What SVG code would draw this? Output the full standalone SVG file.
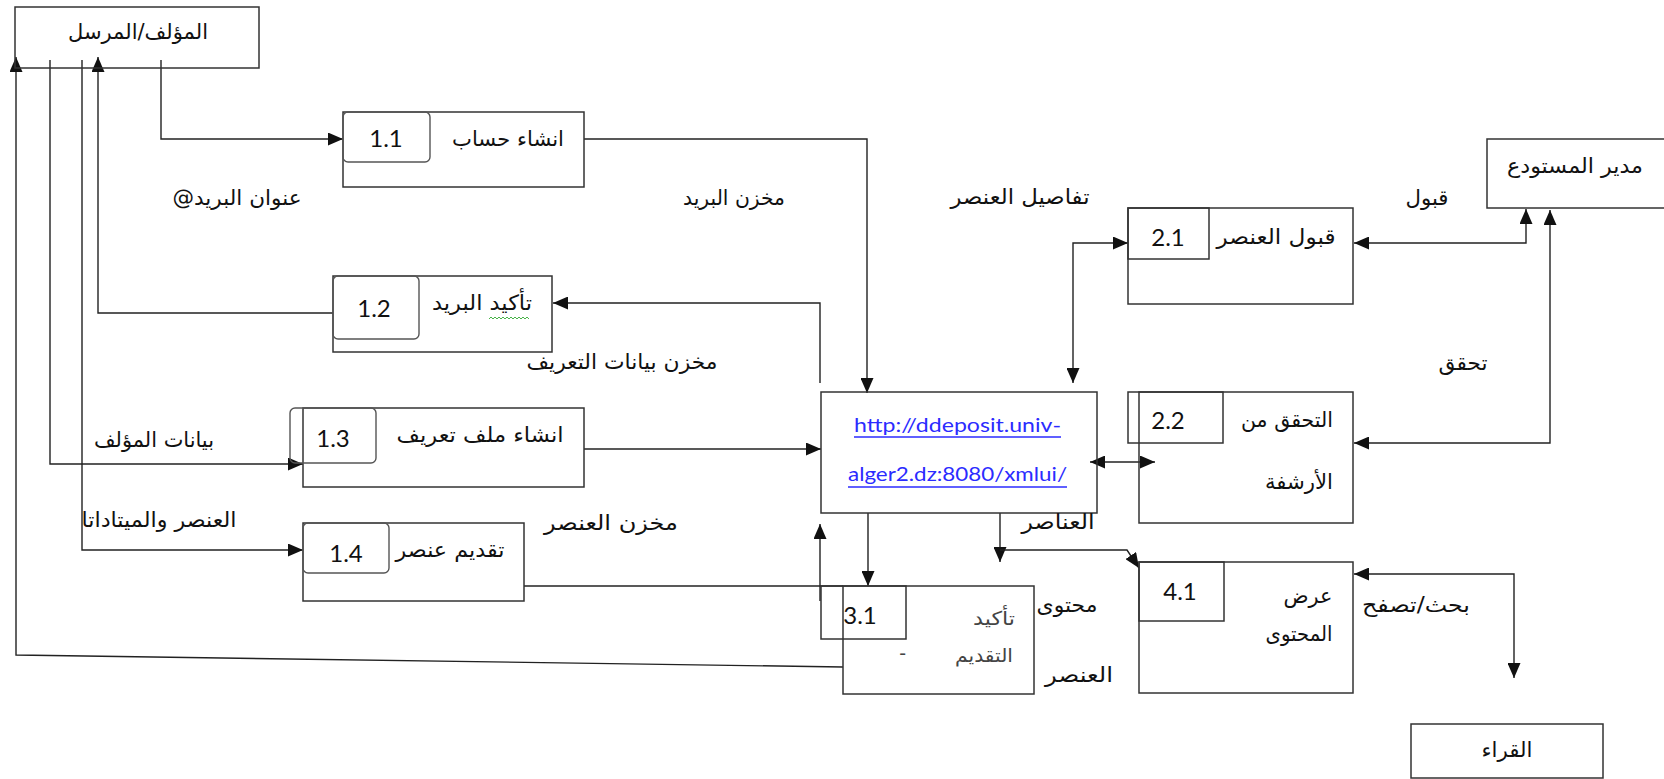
<svg xmlns="http://www.w3.org/2000/svg" width="1664" height="779" viewBox="0 0 1664 779">
<style>
.box{fill:none;stroke:#333;stroke-width:1.5}
.rbox{fill:none;stroke:#555;stroke-width:1.4}
.ln{fill:none;stroke:#222;stroke-width:1.4}
.ar{font-family:"DejaVu Sans",sans-serif;font-size:21px;fill:#111;direction:rtl;text-anchor:middle}
.arl{font-family:"DejaVu Sans",sans-serif;font-size:19px;fill:#444;direction:rtl;text-anchor:start}
.n{font-family:Lato,"Liberation Sans",sans-serif;font-size:24px;fill:#111;text-anchor:middle}
.url{font-family:Lato,"Liberation Sans",sans-serif;font-size:20px;fill:#2b2bff}
.ul{stroke:#2b2bff;stroke-width:1.3}
</style>
<defs>
<marker id="ah" viewBox="0 0 15 13" markerUnits="userSpaceOnUse" markerWidth="15" markerHeight="13" refX="15" refY="6.5" orient="auto-start-reverse">
<path d="M0,0 L15,6.5 L0,13 z" fill="#111"/>
</marker>
</defs>
<rect width="1664" height="779" fill="#fff"/>
<g id="connectors">
<path class="ln" d="M161,60 V139 H343" marker-end="url(#ah)"/>
<path class="ln" d="M333,313 H98 V57" marker-end="url(#ah)"/>
<path class="ln" d="M50,60 V464 H303" marker-end="url(#ah)"/>
<path class="ln" d="M82,60 V550 H303" marker-end="url(#ah)"/>
<path class="ln" d="M843,667 L16,655 V57" marker-end="url(#ah)"/>
<path class="ln" d="M584,139 H867 V393" marker-end="url(#ah)"/>
<path class="ln" d="M820,383 V303 H553" marker-end="url(#ah)"/>
<path class="ln" d="M584,449 H821" marker-end="url(#ah)"/>
<path class="ln" d="M524,586 H843"/>
<path class="ln" d="M868,513 V586" marker-end="url(#ah)"/>
<path class="ln" d="M820,601 V524" marker-end="url(#ah)"/>
<path class="ln" d="M1000,513 V562" marker-end="url(#ah)"/>
<path class="ln" d="M1000,550 H1127 L1139,568" marker-end="url(#ah)"/>
<path class="ln" d="M1073,383 V243 H1128" marker-start="url(#ah)" marker-end="url(#ah)"/>
<path class="ln" d="M1090,462 H1155" marker-start="url(#ah)" marker-end="url(#ah)"/>
<path class="ln" d="M1526,209 V243 H1354" marker-start="url(#ah)" marker-end="url(#ah)"/>
<path class="ln" d="M1550,210 V443 H1354" marker-start="url(#ah)" marker-end="url(#ah)"/>
<path class="ln" d="M1354,574 H1514 V678" marker-start="url(#ah)" marker-end="url(#ah)"/>
</g>
<g id="author">
<rect class="box" x="15" y="7" width="244" height="61"/>
<text class="ar" x="138" y="39" textLength="140" lengthAdjust="spacingAndGlyphs">المؤلف/المرسل</text>
</g>
<g id="p11">
<rect class="box" x="343" y="112" width="241" height="75"/>
<rect class="rbox" x="343" y="112" width="87" height="50" rx="5"/>
<text class="n" x="386" y="147">1.1</text>
<text class="ar" x="508" y="146" textLength="112" lengthAdjust="spacingAndGlyphs">انشاء حساب</text>
</g>
<g id="p12">
<rect class="box" x="333" y="276" width="219" height="76"/>
<rect class="rbox" x="333" y="276" width="86" height="63" rx="5"/>
<text class="n" x="374" y="317">1.2</text>
<text class="ar" x="482" y="310" textLength="100" lengthAdjust="spacingAndGlyphs">تأكيد البريد</text>
<path d="M489,319 l2,-2 l2,2 l2,-2 l2,2 l2,-2 l2,2 l2,-2 l2,2 l2,-2 l2,2 l2,-2 l2,2 l2,-2 l2,2 l2,-2 l2,2 l2,-2 l2,2 l2,-2 l2,2" fill="none" stroke="#3a3" stroke-width="0.9"/>
</g>
<g id="p13">
<rect class="box" x="303" y="408" width="281" height="79"/>
<rect class="rbox" x="290" y="408" width="86" height="55" rx="5"/>
<text class="n" x="333" y="447">1.3</text>
<text class="ar" x="480" y="442" textLength="167" lengthAdjust="spacingAndGlyphs">انشاء ملف تعريف</text>
</g>
<g id="p14">
<rect class="box" x="303" y="523" width="221" height="78"/>
<rect class="rbox" x="303" y="523" width="86" height="50" rx="5"/>
<text class="n" x="346" y="562">1.4</text>
<text class="ar" x="450" y="557" textLength="109" lengthAdjust="spacingAndGlyphs">تقديم عنصر</text>
</g>
<g id="repository">
<rect class="box" x="821" y="392" width="276" height="121"/>
<text class="url" x="854" y="432" textLength="207" lengthAdjust="spacingAndGlyphs">http://ddeposit.univ-</text>
<line class="ul" x1="854" y1="437" x2="1061" y2="437"/>
<text class="url" x="848" y="481" textLength="219" lengthAdjust="spacingAndGlyphs">alger2.dz:8080/xmlui/</text>
<line class="ul" x1="848" y1="487" x2="1067" y2="487"/>
</g>
<g id="p21">
<rect class="box" x="1128" y="208" width="225" height="96"/>
<rect class="box" x="1128" y="208" width="81" height="51"/>
<text class="n" x="1168" y="246">2.1</text>
<text class="ar" x="1276" y="244" textLength="119" lengthAdjust="spacingAndGlyphs">قبول العنصر</text>
</g>
<g id="p22">
<rect class="box" x="1139" y="392" width="214" height="131"/>
<rect class="box" x="1128" y="392" width="95" height="51"/>
<text class="n" x="1168" y="429">2.2</text>
<text class="ar" x="1287" y="427" textLength="92" lengthAdjust="spacingAndGlyphs">التحقق من</text>
<text class="ar" x="1299" y="489" textLength="68" lengthAdjust="spacingAndGlyphs">الأرشفة</text>
</g>
<g id="p31">
<rect class="box" x="843" y="586" width="191" height="108"/>
<rect class="box" x="821" y="586" width="85" height="53"/>
<text class="n" x="860" y="624">3.1</text>
<text class="arl" x="1015" y="625" textLength="42" lengthAdjust="spacingAndGlyphs">تأكيد</text>
<text class="arl" x="1013" y="662" textLength="58" lengthAdjust="spacingAndGlyphs">التقديم</text>
<text class="arl" x="906" y="660">-</text>
</g>
<g id="p41">
<rect class="box" x="1139" y="562" width="214" height="131"/>
<rect class="box" x="1139" y="562" width="85" height="59"/>
<text class="n" x="1180" y="600">4.1</text>
<text class="ar" x="1308" y="603" textLength="49" lengthAdjust="spacingAndGlyphs">عرض</text>
<text class="ar" x="1299" y="641" textLength="67" lengthAdjust="spacingAndGlyphs">المحتوى</text>
</g>
<g id="manager">
<rect class="box" x="1487" y="139" width="200" height="69"/>
<text class="ar" x="1575" y="173" textLength="136" lengthAdjust="spacingAndGlyphs">مدير المستودع</text>
</g>
<g id="readers">
<rect class="box" x="1411" y="724" width="192" height="54"/>
<text class="ar" x="1507" y="757" textLength="51" lengthAdjust="spacingAndGlyphs">القراء</text>
</g>
<g id="labels">
<text class="ar" x="237" y="205" textLength="129" lengthAdjust="spacingAndGlyphs">عنوان البريد@</text>
<text class="ar" x="734" y="205" textLength="102" lengthAdjust="spacingAndGlyphs">مخزن البريد</text>
<text class="ar" x="1020" y="204" textLength="139" lengthAdjust="spacingAndGlyphs">تفاصيل العنصر</text>
<text class="ar" x="1427" y="205" textLength="43" lengthAdjust="spacingAndGlyphs">قبول</text>
<text class="ar" x="622" y="369" textLength="191" lengthAdjust="spacingAndGlyphs">مخزن بيانات التعريف</text>
<text class="ar" x="1463" y="370" textLength="49" lengthAdjust="spacingAndGlyphs">تحقق</text>
<text class="ar" x="154" y="447" textLength="120" lengthAdjust="spacingAndGlyphs">بيانات المؤلف</text>
<text class="ar" x="159" y="527" textLength="155" lengthAdjust="spacingAndGlyphs">العنصر والميتاداتا</text>
<text class="ar" x="611" y="530" textLength="134" lengthAdjust="spacingAndGlyphs">مخزن العنصر</text>
<text class="ar" x="1058" y="529" textLength="73" lengthAdjust="spacingAndGlyphs">العناصر</text>
<text class="ar" x="1067" y="612" textLength="61" lengthAdjust="spacingAndGlyphs">محتوى</text>
<text class="ar" x="1079" y="682" textLength="68" lengthAdjust="spacingAndGlyphs">العنصر</text>
<text class="ar" x="1416" y="612" textLength="108" lengthAdjust="spacingAndGlyphs">بحث/تصفح</text>
</g>
</svg>
